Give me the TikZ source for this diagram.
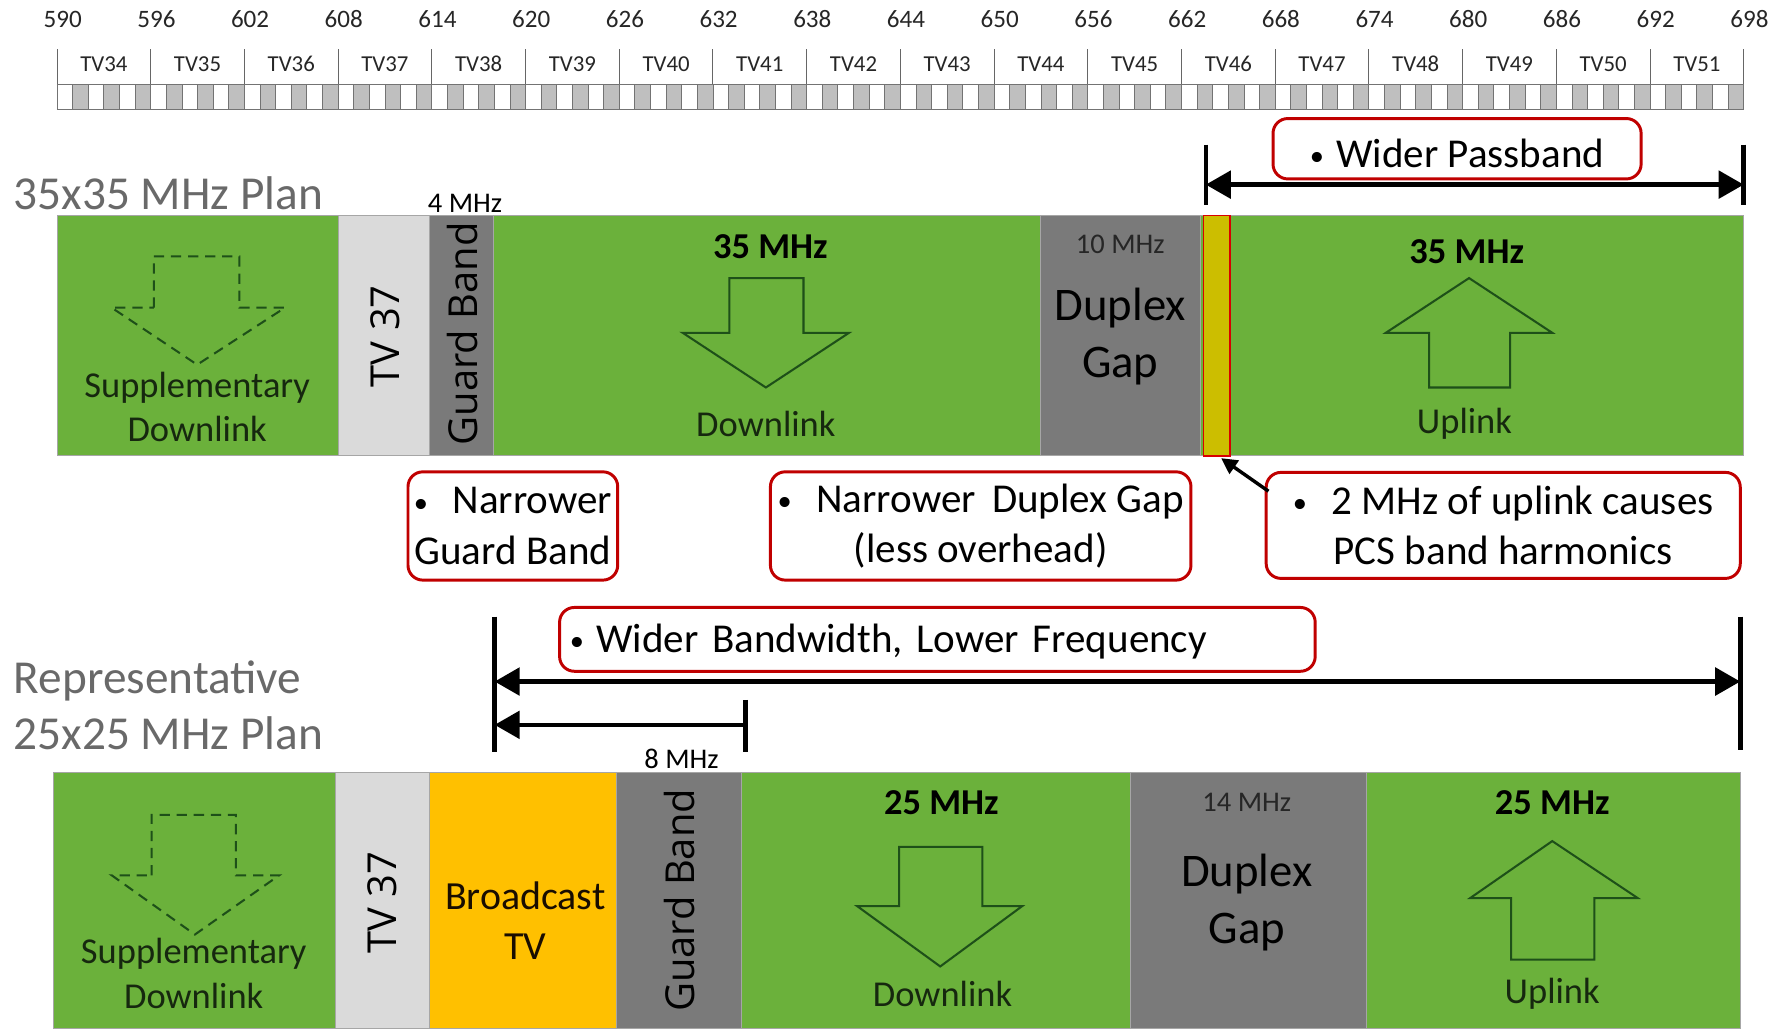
\documentclass[tikz,border=0pt]{standalone}
\usepackage{fontspec}
\setmainfont{Carlito}
\newfontfamily\segfont{Open Sans}
\usetikzlibrary{arrows.meta,calc}
\definecolor{bgreen}{RGB}{107,177,59}
\definecolor{bgray}{RGB}{122,122,122}
\definecolor{blight}{RGB}{218,218,218}
\definecolor{borange}{RGB}{255,192,0}
\definecolor{byellow}{RGB}{204,190,0}
\definecolor{calred}{RGB}{192,0,0}
\definecolor{arrgreen}{RGB}{30,80,25}
\definecolor{txtdark}{RGB}{22,40,15}
\definecolor{plangray}{RGB}{105,105,105}
\definecolor{cellgray}{RGB}{191,191,191}
\newcommand\fsz[2]{\fontsize{#1}{#2}\selectfont}
\newcommand\bul{{\fontsize{25}{25}\selectfont\raisebox{1.5pt}{•}}}
\newcommand\bandrect[6]{\node[bandbox,fill=#6,minimum width={#4-#2},minimum height={#5-#3}] (#1) at (#2,#3) {};}
\begin{document}
\begin{tikzpicture}[x=1pt,y=-1pt,
  bandbox/.style={draw=black!35,line width=0.8pt,inner sep=0pt,outer sep=0pt,anchor=north west},
  callout/.style={draw=calred,line width=2.6pt,rounded corners=13pt,fill=white,inner sep=0pt,align=center,font=\fsz{36}{44}},
  dimbar/.style={line width=4pt},
  dimarrow/.style={line width=4pt,{Triangle[length=22pt,width=24pt]}-{Triangle[length=22pt,width=24pt]}},
  leftarrow/.style={line width=4pt,{Triangle[length=22pt,width=24pt]}-},
  blockarrow/.style={draw=arrgreen,line width=1.8pt,line join=miter},
  dasharrow/.style={draw=arrgreen,line width=1.8pt,dash pattern=on 9pt off 6pt},
  bandtxt/.style={text=txtdark,font=\fsz{32}{39},align=center,inner sep=0pt},
  mhz/.style={font=\bfseries\fsz{32}{38},inner sep=0pt},
  smallmhz/.style={font=\fsz{25}{30},text=black!85,inner sep=0pt},
  duplex/.style={font=\fsz{41}{50},align=center,inner sep=0pt},
  rot/.style={rotate=90,font=\segfont\fsz{35}{40},inner sep=0pt},
  rulernum/.style={font=\fsz{22}{26},text=black!85,inner sep=0pt},
  rulertv/.style={font=\fsz{20}{24},text=black!85,inner sep=0pt},
  plan/.style={font=\fsz{41.5}{49},text=plangray,inner sep=0pt,anchor=west,align=left}]
\useasboundingbox (0,0) rectangle (1568,903);

% ---------- ruler ----------
\foreach \i in {1,3,...,107}{
  \fill[cellgray] ({50+\i*13.7037},74) rectangle ({50+(\i+1)*13.7037},96);
}
\foreach \i in {0,...,108}{
  \draw[black!55,line width=0.7pt] ({50+\i*13.7037},74) -- ({50+\i*13.7037},96);
}
\draw[black!55,line width=0.8pt] (50,74) -- (1530,74);
\draw[black!55,line width=0.8pt] (50,96) -- (1530,96);
\foreach \k in {0,...,18}{
  \draw[black!60,line width=0.8pt] ({50+\k*82.2222},43) -- ({50+\k*82.2222},74);
}
\foreach \k [evaluate=\k as \ch using int(34+\k)] in {0,...,17}{
  \node[rulertv] (tv\k) at ({50+(\k+0.5)*82.2222},56) {TV\ch};
}
\foreach \k [evaluate=\k as \f using int(590+6*\k)] in {0,...,18}{
  \node[rulernum] (num\k) at ({55+\k*82.2222},17) {\f};
}

% ---------- 35x35 plan ----------
\node[plan] (p35) at (12,170) {35x35 MHz Plan};
\bandrect{supA}{50}{189}{297}{400}{bgreen}
\bandrect{tvA}{297}{189}{377}{400}{blight}
\bandrect{gbA}{377}{189}{433}{400}{bgray}
\bandrect{dlA}{433}{189}{913}{400}{bgreen}
\bandrect{dgA}{913}{189}{1053}{400}{bgray}
\bandrect{ulA}{1053}{189}{1530}{400}{bgreen}
\node[draw=red!85!black,line width=1.4pt,fill=byellow,inner sep=0pt,outer sep=0pt,anchor=north west,minimum width=23,minimum height=211] (ystrip) at (1056,189) {};

% block arrows (top)
\draw[dasharrow] (135,270) -- (135,225) -- (210,225) -- (210,270) -- (250,270) -- (173,320) -- (98,270) -- cycle;
\draw[blockarrow] (640,292) -- (640,244) -- (705,244) -- (705,292) -- (745,292) -- (672,340) -- (599,292) -- cycle;
\draw[blockarrow] (1254,292) -- (1254,340) -- (1325,340) -- (1325,292) -- (1362,292) -- (1289,244) -- (1216,292) -- cycle;

\node[bandtxt] (supAt) at (173,357) {Supplementary\\Downlink};
\node[rot] (tvAt) at (338,295) {TV 37};
\node[rot] (gbAt) at (406,293) {Guard Band};
\node[smallmhz,text=black] (fourm) at (408,178) {4 MHz};
\node[mhz] (dlAm) at (676,216) {35 MHz};
\node[bandtxt] (dlAt) at (672,372) {Downlink};
\node[smallmhz] (dgAm) at (983,214) {10 MHz};
\node[duplex] (dgAt) at (983,295) {Duplex\\Gap};
\node[mhz] (ulAm) at (1287,221) {35 MHz};
\node[bandtxt] (ulAt) at (1285,372) {Uplink};

% wider passband dimension
\coordinate (wpLt) at (1058,127); \coordinate (wpLb) at (1058,180);
\coordinate (wpRt) at (1530,127); \coordinate (wpRb) at (1530,180);
\coordinate (wpL) at (1058,162); \coordinate (wpR) at (1530,162);
\draw[dimbar] (wpLt) -- (wpLb);
\draw[dimbar] (wpRt) -- (wpRb);
\draw[dimarrow] (wpL) -- (wpR);
\node[callout,minimum width=323,minimum height=53,text height=33pt] (cwp) at (1278.5,130.5) {\bul\hspace{0.3em}Wider Passband};

% ---------- middle callouts ----------
\node[callout,minimum width=184,minimum height=95] (cgb) at (450,461.5) {\bul\hspace{0.6em}Narrower\\Guard Band};
\node[callout,minimum width=369,minimum height=95] (cdg) at (860.5,461.5) {\bul\hspace{0.6em}Narrower\hspace{0.4em}Duplex Gap\\(less overhead)};
\node[callout,minimum width=416,minimum height=93] (charm) at (1319,461) {\bul\hspace{0.6em}2 MHz of uplink causes\\PCS band harmonics};
\coordinate (harmtail) at (1113,431);
\draw[line width=3pt,-{Triangle[length=14pt,width=14pt]}] (harmtail) -- ([xshift=4pt,yshift=-2pt]ystrip.south);

% ---------- 25x25 plan ----------
\node[plan] (p25) at (12,619) {Representative\\25x25 MHz Plan};
\node[callout,minimum width=663,minimum height=56,text width=645,align=left,text height=28pt] (cwb) at (822.5,561) {\bul\hspace{0.3em}Wider Bandwidth, Lower Frequency};

\coordinate (wbLt) at (434,541); \coordinate (wbLb) at (434,660);
\coordinate (wbRt) at (1527,541); \coordinate (wbRb) at (1527,658);
\coordinate (gbRt) at (654,614); \coordinate (gbRb) at (654,660);
\coordinate (wbL) at (434,598); \coordinate (wbR) at (1527,598);
\coordinate (gbL) at (434,636); \coordinate (gbR) at (654,636);
\draw[dimbar] (wbLt) -- (wbLb);
\draw[dimbar] (wbRt) -- (wbRb);
\draw[dimbar] (gbRt) -- (gbRb);
\draw[dimarrow] (wbL) -- (wbR);
\draw[leftarrow] (gbL) -- (gbR);
\node[smallmhz,text=black] (eightm) at (598,666) {8 MHz};

\bandrect{supB}{47}{678}{294}{902}{bgreen}
\bandrect{tvB}{294}{678}{377}{902}{blight}
\bandrect{btvB}{377}{678}{541}{902}{borange}
\bandrect{gbB}{541}{678}{651}{902}{bgray}
\bandrect{dlB}{651}{678}{992}{902}{bgreen}
\bandrect{dgB}{992}{678}{1199}{902}{bgray}
\bandrect{ulB}{1199}{678}{1527}{902}{bgreen}

\draw[dasharrow] (133,768) -- (133,715) -- (207,715) -- (207,768) -- (245,768) -- (171,820) -- (98,768) -- cycle;
\draw[blockarrow] (789,795) -- (789,743) -- (862,743) -- (862,795) -- (897,795) -- (825,848) -- (752,795) -- cycle;
\draw[blockarrow] (1326,788) -- (1326,842) -- (1399,842) -- (1399,788) -- (1437,788) -- (1362,738) -- (1290,788) -- cycle;

\node[bandtxt] (supBt) at (170,854) {Supplementary\\Downlink};
\node[rot] (tvBt) at (335,792) {TV 37};
\node[bandtxt,text=black!90!orange,font=\fsz{35}{44}] (btvBt) at (461,808) {Broadcast\\TV};
\node[rot] (gbBt) at (596,790) {Guard Band};
\node[mhz] (dlBm) at (826,704) {25 MHz};
\node[bandtxt] (dlBt) at (827,872) {Downlink};
\node[smallmhz] (dgBm) at (1094,704) {14 MHz};
\node[duplex] (dgBt) at (1094,792) {Duplex\\Gap};
\node[mhz] (ulBm) at (1362,704) {25 MHz};
\node[bandtxt] (ulBt) at (1362,872) {Uplink};
\end{tikzpicture}
\end{document}
